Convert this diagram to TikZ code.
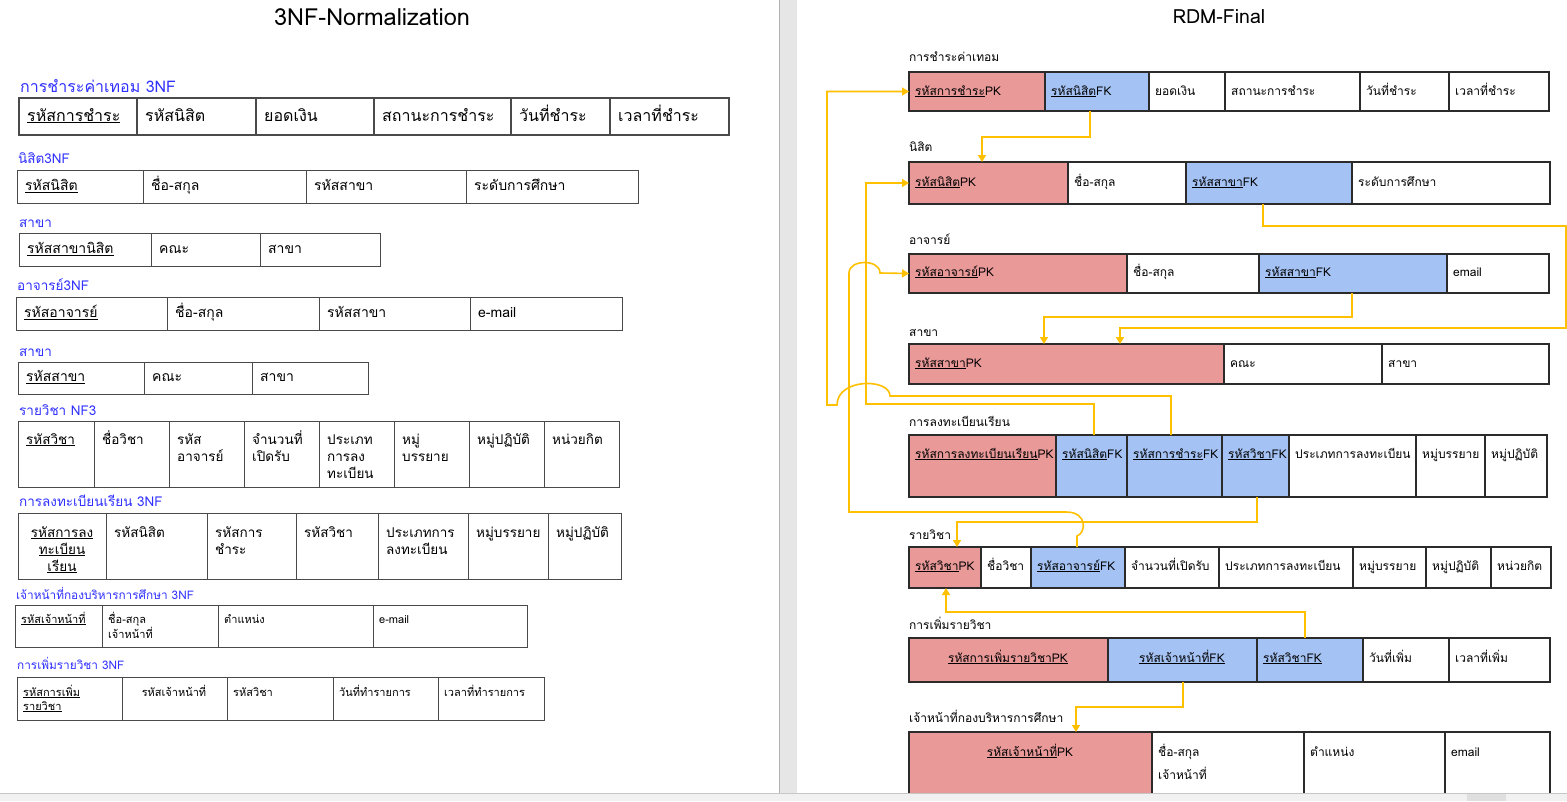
\documentclass[tikz,border=0pt]{standalone}
\usepackage{fontspec}
\setmainfont[Script=Thai]{Loma}
\usetikzlibrary{arrows.meta,calc}

\definecolor{pkfill}{HTML}{EA9999}
\definecolor{fkfill}{HTML}{A4C2F4}
\definecolor{linkc}{HTML}{FFC000}
\definecolor{gridc}{HTML}{2B2B2B}
\definecolor{lgridc}{HTML}{4A4A4A}
\definecolor{lblblue}{HTML}{3030FF}
\definecolor{sepc}{HTML}{E6E6E6}
\definecolor{barc}{HTML}{F1F1F1}

\newcommand{\fsz}[2]{\fontsize{#1}{#2}\selectfont}
\newcommand{\lines}[1]{\begin{tabular}[t]{@{}l@{}}#1\end{tabular}}
\newcommand{\clines}[1]{\begin{tabular}[t]{@{}c@{}}#1\end{tabular}}

% one table row: [cell style]{name}{top}{bottom}{text style}{text y}{x1/x2/fill/text,...}
\newcommand{\trow}[7][]{%
  \foreach \xa/\xb/\fc/\tx [count=\k] in {#7}{%
    \node[cellbox,#1,fill=\fc,minimum width={\xb-\xa},minimum height={#4-#3}]
      (#2c\k) at ({(\xa+\xb)/2},{(#3+#4)/2}) {};
    \node[#5] (#2t\k) at ({\xa+6},{#6}) {\tx};
  }}

\tikzset{
  cellbox/.style={draw=gridc,line width=1.1pt,inner sep=0pt,outer sep=0pt},
  lcell/.style={draw=lgridc,line width=0.9pt},
  heavycell/.style={draw=lgridc,line width=2pt},
  rtxt/.style={font=\fsz{12}{14},anchor=west,inner sep=0pt,text height=9pt,text depth=3pt},
  rctr/.style={rtxt,anchor=center},
  rtop/.style={font=\fsz{12}{23},anchor=base west,inner sep=0pt},
  rlabel/.style={font=\fsz{12}{14},anchor=base west,inner sep=0pt},
  ltxtA/.style={font=\fsz{16}{19},anchor=west,inner sep=0pt,text height=12pt,text depth=4pt,xshift=2pt},
  ltxt/.style={font=\fsz{14}{17},anchor=west,inner sep=0pt,text height=10pt,text depth=3pt,xshift=2pt},
  ltop/.style={font=\fsz{13.5}{17},anchor=base west,inner sep=0pt,xshift=2pt},
  ltops/.style={font=\fsz{11}{14},anchor=base west,inner sep=0pt},
  blabelA/.style={font=\fsz{16}{18},text=lblblue,anchor=base west,inner sep=0pt},
  blabel/.style={font=\fsz{13.5}{15},text=lblblue,anchor=base west,inner sep=0pt},
  blabels/.style={font=\fsz{11.8}{13},text=lblblue,anchor=base west,inner sep=0pt},
  ptitle/.style={anchor=center,inner sep=0pt},
  fk/.style={draw=linkc,line width=1.6pt,-{Triangle[length=7pt,width=8pt]}},
}

\begin{document}
\begin{tikzpicture}[x=1pt,y=-1pt]
\useasboundingbox (0,0) rectangle (1567,801);
\fill[white] (0,0) rectangle (1567,801);

% page divider
\fill[sepc] (779,0) rectangle (797,801);
\draw[gray!60,line width=0.6pt] (779,0) -- (779,801);

% page titles
\node[ptitle,font=\fsz{23.5}{26}] (titleL) at (372,17) {3NF-Normalization};
\node[ptitle,font=\fsz{19.5}{22}] (titleR) at (1219,17) {RDM-Final};

% ---------------- 3NF tables ----------------
\node[blabelA] (labL0) at (20,92) {การชำระค่าเทอม 3NF};
\trow[heavycell]{lPay}{98}{135}{ltxtA}{117}{19/137/white/\underline{รหัสการชำระ},137/256/white/รหัสนิสิต,256/374/white/ยอดเงิน,374/511/white/สถานะการชำระ,511/610/white/วันที่ชำระ,610/729/white/เวลาที่ชำระ}

\node[blabel] (labL1) at (18,163) {นิสิต3NF};
\trow[lcell]{lStu}{170}{203}{ltxt}{187}{17/143/white/\underline{รหัสนิสิต},143/306/white/ชื่อ-สกุล,306/466/white/รหัสสาขา,466/638/white/ระดับการศึกษา}

\node[blabel] (labL2) at (19,227) {สาขา};
\trow[lcell]{lMajA}{233}{266}{ltxt}{250}{19/151/white/\underline{รหัสสาขานิสิต},151/260/white/คณะ,260/380/white/สาขา}

\node[blabel] (labL3) at (17,290) {อาจารย์3NF};
\trow[lcell]{lTea}{297}{330}{ltxt}{314}{16/167/white/\underline{รหัสอาจารย์},167/319/white/ชื่อ-สกุล,319/470/white/รหัสสาขา,470/622/white/e-mail}

\node[blabel] (labL4) at (19,356) {สาขา};
\trow[lcell]{lMajB}{362}{394}{ltxt}{378}{18/144/white/\underline{รหัสสาขา},144/252/white/คณะ,252/368/white/สาขา}

\node[blabel] (labL5) at (19,415) {รายวิชา NF3};
\trow[lcell]{lSub}{421}{487}{ltop}{444}{18/94/white/\underline{รหัสวิชา},94/169/white/ชื่อวิชา,169/244/white/\lines{รหัส\\อาจารย์},244/319/white/\lines{จำนวนที่\\เปิดรับ},319/394/white/\lines{ประเภท\\การลง\\ทะเบียน},394/469/white/\lines{หมู่\\บรรยาย},469/544/white/หมู่ปฏิบัติ,544/619/white/หน่วยกิต}

\node[blabel] (labL6) at (19,506) {การลงทะเบียนเรียน 3NF};
\trow[lcell]{lReg}{513}{579}{ltop}{537}{18/106/white/{},106/207/white/รหัสนิสิต,207/296/white/\lines{รหัสการ\\ชำระ},296/378/white/รหัสวิชา,378/468/white/\lines{ประเภทการ\\ลงทะเบียน},468/548/white/หมู่บรรยาย,548/621/white/หมู่ปฏิบัติ}
\node[font=\fsz{13.5}{17},anchor=base,inner sep=0pt] (lRegKey) at (62,537)
  {\clines{\underline{รหัสการลง}\\\underline{ทะเบียน}\\\underline{เรียน}}};

\node[blabels] (labL7) at (16,599) {เจ้าหน้าที่กองบริหารการศึกษา 3NF};
\trow[lcell]{lOff}{605}{647}{ltops}{623}{15/102/white/\underline{รหัสเจ้าหน้าที่},102/218/white/\lines{ชื่อ-สกุล\\เจ้าหน้าที่},218/373/white/ตำแหน่ง,373/527/white/e-mail}

\node[blabels] (labL8) at (17,669) {การเพิ่มรายวิชา 3NF};
\trow[lcell]{lAdd}{677}{720}{ltops}{696}{17/122/white/\lines{\underline{รหัสการเพิ่ม}\\\underline{รายวิชา}},122/227/white/{},227/333/white/รหัสวิชา,333/438/white/วันที่ทำรายการ,438/544/white/เวลาที่ทำรายการ}
\node[font=\fsz{11}{14},anchor=base,inner sep=0pt] (lAddStaff) at (174,696) {รหัสเจ้าหน้าที่};

% ---------------- final relational model ----------------
\node[rlabel] (labPay) at (909,61) {การชำระค่าเทอม};
\trow{Pay}{72}{111}{rtxt}{92}{909/1045/pkfill/\underline{รหัสการชำระ}PK,1045/1149/fkfill/\underline{รหัสนิสิต}FK,1149/1225/white/ยอดเงิน,1225/1360/white/สถานะการชำระ,1360/1449/white/วันที่ชำระ,1449/1549/white/เวลาที่ชำระ}

\node[rlabel] (labStu) at (909,151) {นิสิต};
\trow{Stu}{162}{204}{rtxt}{183}{909/1068/pkfill/\underline{รหัสนิสิต}PK,1068/1186/white/ชื่อ-สกุล,1186/1352/fkfill/\underline{รหัสสาขา}FK,1352/1550/white/ระดับการศึกษา}

\node[rlabel] (labTea) at (909,244) {อาจารย์};
\trow{Tea}{254}{293}{rtxt}{273}{909/1127/pkfill/\underline{รหัสอาจารย์}PK,1127/1259/white/ชื่อ-สกุล,1259/1447/fkfill/\underline{รหัสสาขา}FK,1447/1549/white/email}

\node[rlabel] (labMaj) at (909,336) {สาขา};
\trow{Maj}{344}{384}{rtxt}{364}{909/1224/pkfill/\underline{รหัสสาขา}PK,1224/1382/white/คณะ,1382/1549/white/สาขา}

\node[rlabel] (labReg) at (909,426) {การลงทะเบียนเรียน};
\trow{Reg}{435}{497}{rtxt}{455}{909/1056/pkfill/\underline{รหัสการลงทะเบียนเรียน}PK,1056/1127/fkfill/\underline{รหัสนิสิต}FK,1127/1222/fkfill/\underline{รหัสการชำระ}FK,1222/1289/fkfill/\underline{รหัสวิชา}FK,1289/1416/white/ประเภทการลงทะเบียน,1416/1485/white/หมู่บรรยาย,1485/1547/white/หมู่ปฏิบัติ}

\node[rlabel] (labSub) at (909,539) {รายวิชา};
\trow{Sub}{547}{588}{rtxt}{567}{909/981/pkfill/\underline{รหัสวิชา}PK,981/1031/white/ชื่อวิชา,1031/1125/fkfill/\underline{รหัสอาจารย์}FK,1125/1219/white/จำนวนที่เปิดรับ,1219/1353/white/ประเภทการลงทะเบียน,1353/1426/white/หมู่บรรยาย,1426/1491/white/หมู่ปฏิบัติ,1491/1551/white/หน่วยกิต}

\node[rlabel] (labAdd) at (909,629) {การเพิ่มรายวิชา};
\trow{Add}{638}{682}{rtxt}{659}{909/1108/pkfill/{},1108/1257/fkfill/{},1257/1363/fkfill/\underline{รหัสวิชาFK},1363/1449/white/วันที่เพิ่ม,1449/1550/white/เวลาที่เพิ่ม}
\node[rctr] (AddKey) at (1008,659) {\underline{รหัสการเพิ่มรายวิชาPK}};
\node[rctr] (AddStaff) at (1182,659) {\underline{รหัสเจ้าหน้าที่FK}};

\node[rlabel] (labOff) at (909,722) {เจ้าหน้าที่กองบริหารการศึกษา};
\trow{Off}{732}{800}{rtop}{756}{909/1152/pkfill/{},1152/1304/white/\lines{ชื่อ-สกุล\\เจ้าหน้าที่},1304/1445/white/ตำแหน่ง,1445/1550/white/email}
\node[font=\fsz{12}{14},anchor=base,inner sep=0pt] (OffKey) at (1030,756) {\underline{รหัสเจ้าหน้าที่}PK};

% ---------------- foreign key links ----------------
\draw[fk] (1090,0 |- Payc2.south) -- (1090,137) -| (982,0 |- Stuc1.north);
\draw[fk] (1171,0 |- Regc3.north) -- (1171,396) -- (890,396)
  .. controls (890,378) and (837,378) .. (837,405) -- (827,405) |- (Payc1.west);
\draw[fk] (1094,0 |- Regc2.north) -- (1094,404) -- (866,404) |- (Stuc1.west);
\draw[fk] (1263,0 |- Stuc3.south) -- (1263,226) -- (1566,226) -- (1566,328) -| (1120,0 |- Majc1.north);
\draw[fk] (1352,0 |- Teac3.south) -- (1352,317) -| (1044,0 |- Majc1.north);
\draw[fk] (1257,0 |- Regc4.south) -- (1257,522) -| (957,0 |- Subc1.north);
\draw[fk] (1077,0 |- Subc3.north) -- (1077,536)
  .. controls (1086,533) and (1088,512) .. (1066,512) -- (849,512) -- (849,273)
  .. controls (849,259) and (880,259) .. (880,273) -- (Teac1.west);
\draw[fk] (1305,0 |- Addc3.north) -- (1305,612) -| (946,0 |- Subc1.south);
\draw[fk] (1183,0 |- Addc2.south) -- (1183,707) -| (1076,0 |- Offc1.north);

% status bar along the bottom edge
\fill[barc] (0,793) rectangle (1567,801);
\draw[gray!45,line width=0.6pt] (0,793) -- (1567,793);
\fill[gray!25] (1467,794) rectangle (1506,801);
\end{tikzpicture}
\end{document}
